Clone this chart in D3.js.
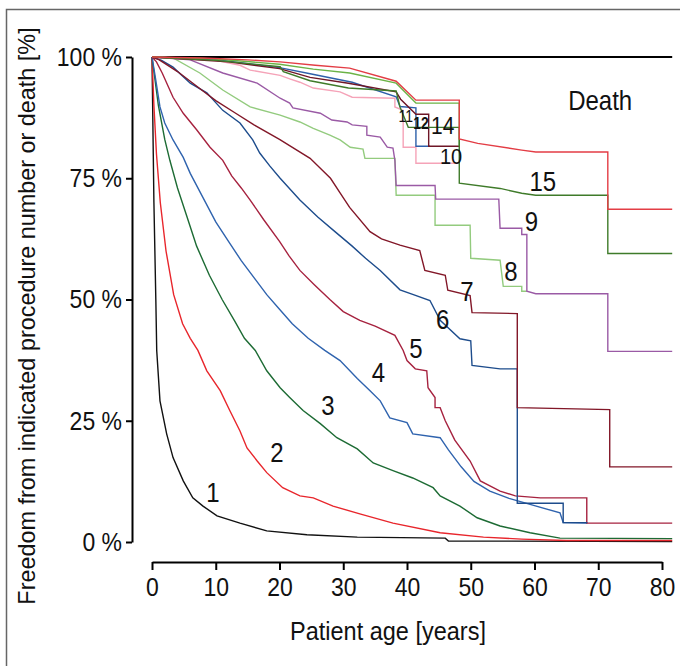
<!DOCTYPE html>
<html>
<head>
<meta charset="utf-8">
<script src="https://cdn.jsdelivr.net/npm/d3@7"></script>
<style>
  body { margin: 0; background: #fff; }
  svg { display: block; font-family: "Liberation Sans", Arial, sans-serif; }
</style>
</head>
<body>
<div id="chart"></div>
<script>
// [age in years, freedom in %]
const curve1 = [[0,100],[0.1,90],[0.2,80],[0.3,70],[0.45,60],[0.6,50],[0.74,39.5],[1.25,29.1],[2.3,22.3],[3.3,17.4],[4.9,12.6],[6.4,9.1],[8,7.4],[10.2,5.4],[13.8,3.9],[18,2.3],[24.3,1.5],[32.2,1.0],[46,0.8],[46.5,0.2],[81.6,0.1]];
const curve2 = [[0,100],[0.3,90],[0.7,80],[1.3,70],[2.2,60],[3.4,51],[4.8,45],[6,42],[7.2,39.5],[8.6,35.3],[10.7,31.2],[12.2,27.1],[13.8,22.9],[14.9,19.4],[16.5,16.7],[18,14.3],[20.5,11.2],[23.2,9.5],[25.3,9.1],[28.4,7.4],[32.6,5.8],[37.8,3.9],[45.2,1.9],[52,1.0],[58,0.6],[65,0.3],[81.6,0.3]];
const curve3 = [[0,100],[0.5,95],[1,90],[2,83],[2.8,78.7],[4,73],[5.5,67],[7,61],[9,55],[11,50],[13,45.5],[14.5,42],[16.2,39.5],[18,35.3],[20.1,31.8],[21.6,29.8],[23.7,27.1],[26.4,24.4],[29,21.5],[32.2,19.2],[34.7,16.3],[37.8,14.7],[40.9,13.2],[44.1,11.2],[45.2,9.5],[48.3,7.4],[51,5],[54.6,3.3],[59.3,1.9],[64,0.8],[81.6,0.7]];
const curve4 = [[0,100],[0.5,96],[1.25,89.7],[2,86.4],[3.3,82.9],[4.9,79.3],[6,76],[8,71],[10,66],[12,62],[14,58],[16,54.5],[18,51],[20,48],[22,45],[24.5,42],[27.1,39.5],[29.5,37.4],[32.2,33.7],[34.2,31.2],[35.8,29.1],[37.3,25.6],[40,24.6],[40.9,22.3],[45.2,21.5],[46.5,19],[48.5,15.5],[50.5,12.5],[53,10.5],[56,9],[60,7.5],[64,6],[64.5,4],[68.3,3.9]];
const curve5 = [[0,100],[0.7,99],[1.6,96.7],[3.3,91.7],[4.9,88.4],[7,85],[9.1,81.4],[11.1,78.7],[12.5,75.5],[14,73],[15.4,70.5],[17.5,66.5],[20,62],[21.5,59],[23.2,56],[25.5,53],[27.9,50],[30,47.5],[32.6,45.7],[35,44.5],[38.1,42.6],[39.4,39.5],[40,37.4],[41.3,35.7],[43.1,35.3],[43.3,31.8],[44.4,29.8],[44.4,27.7],[45.2,27.7],[46,25],[47.5,21],[49.9,16.7],[51.5,12.6],[54.6,10.5],[57,9.5],[60.9,9.1],[68.2,9.1],[68.2,3.9],[81.6,3.9]];
const curve6 = [[0,100],[1.5,99.3],[3.3,97.9],[6,94.6],[8.6,92.6],[11.1,89],[13.8,86.4],[15.8,82.9],[16.9,80.2],[18.5,77.5],[20.1,75],[23.2,70.5],[26,67],[28.7,64],[31.4,61],[33.5,58.5],[35.8,56],[38.9,52],[41,51],[43.6,49.8],[45.2,45.7],[48.3,41.9],[50,41.5],[50.2,36.4],[54.6,35.7],[57.3,35.7],[57.3,8],[64.5,8],[64.5,4],[68.3,4]];
const curve7 = [[0,100],[1,99.5],[2,98.7],[4,97],[6,95],[8,93],[10,91],[13,88.5],[16,86],[20,83],[24.8,79.1],[28,75],[29.5,72],[31,69],[34.2,64],[36,62.5],[38.9,61.2],[42,60.1],[42.8,56],[46,55],[46.4,51.9],[49.9,50.8],[50.2,47.3],[57.3,47.1],[57.3,27.7],[71.8,27.3],[71.8,15.5],[81.6,15.5]];
const curve8 = [[0,100],[3.3,99.8],[7.5,96.7],[11.1,93.2],[15.4,89.7],[20.1,88],[23.2,86.6],[25.3,85.3],[27.9,83.9],[29.5,82.9],[31.1,81.4],[33.1,81],[33.4,79.1],[38.1,79.1],[38.3,71.5],[44.4,71.5],[44.4,65.3],[49.9,65.3],[50,58.5],[54.6,58.1],[55.1,52.7],[58,52.7],[58,51.7],[58.8,51.7]];
const curve9 = [[0,100],[6,99.4],[11.1,96.7],[16.5,94.6],[20.1,91.5],[21.6,90.5],[22.1,89.5],[26.4,88.4],[28.2,87],[30.6,86.6],[31.4,86],[33.7,85.7],[33.7,83.9],[35.8,83.5],[36.9,81.4],[37.8,81.2],[38.1,78.7],[38.3,73.5],[44.4,73.5],[44.5,70.7],[54.4,70.7],[54.6,64.7],[58,64.7],[58,63.4],[58.8,63.4],[58.8,51.7],[60.2,51.2],[71.5,51.2],[71.5,39.3],[81.6,39.3]];
const curve10 = [[0,100],[9.6,99.4],[13.8,98.3],[15.4,97.3],[20.1,96.2],[21.6,95.5],[23.2,94.8],[25.3,93.6],[29.5,92.8],[31.4,91.7],[38.1,91.5],[38.1,89.7],[39.4,89],[39.4,81.4],[41.4,81.4],[41.4,78.1],[48.3,78.1]];
const curve11 = [[0,100],[10,99.5],[20,97.8],[25,96.5],[31.4,94.8],[38.3,91.8],[38.9,89.8],[41.4,89.5],[41.4,81.6],[43.6,81.6]];
const curve12 = [[0,100],[12,99],[20,97.6],[24.8,95.8],[30.8,94.6],[38.3,92.8],[39,91.3],[41.4,88.2],[43.4,88.2],[43.4,81.6],[48.3,81.6]];
const curve14 = [[0,100],[10,99.6],[20,98.5],[25.3,97.5],[31,96.7],[38.3,94.6],[41.4,90.5],[48.2,90.5],[48.2,81.8],[48.3,81.8]];
const curve15 = [[0,100],[10,99.3],[20.1,98],[20.6,97],[24.8,95.1],[30.8,93.6],[38.3,93],[38.9,89.7],[40.2,85.5],[48.2,85.5],[48.2,74],[54.6,72.9],[58,71.9],[60.2,71.5],[71.5,71.5],[71.5,59.5],[81.6,59.5]];
const curveDeath = [[0,100],[8,99.8],[15,99.4],[20.1,99],[25.6,98.3],[31,97.7],[38.3,95],[41.4,91.1],[48.2,91.1],[48.2,83.1],[51.1,82.2],[58,80.8],[60.2,80.4],[71.5,80.4],[71.5,68.6],[81.6,68.6]];

const seriesNames = ["1","2","3","4","5","6","7","8","9","10","11","12","14","15","Death"];
const seriesValues = [curve1,curve2,curve3,curve4,curve5,curve6,curve7,curve8,curve9,curve10,curve11,curve12,curve14,curve15,curveDeath];

// label anchor points [age, %]
const labelNames = ["1","2","3","4","5","6","7","8","9","10","11","12","14","15","Death"];
const labelAt = [[9.55,10.3],[19.6,18.4],[27.6,28.1],[35.5,34.9],[41.4,39.8],[45.6,45.8],[49.4,51.6],[56.3,55.7],[59.5,66.0],[46.9,79.6],[39.8,87.6],[42.2,86.2],[45.6,85.8],[61.3,74.3],[70.3,91.1]];

const xTicks = [0,10,20,30,40,50,60,70,80];
const yTicks = [0,25,50,75,100];
const maxAge = 81.6;

const colors = {
  "1":"#111111","2":"#e8262c","3":"#1d6b34","4":"#2f63ae","5":"#a6223f",
  "6":"#1d4c8c","7":"#821728","8":"#93cb7e","9":"#9a5aa5","10":"#f5a3b8",
  "11":"#2e60aa","12":"#6e1626","14":"#6bb346","15":"#3f7b2a","Death":"#e33d45"
};
const labelSize = {"10":20,"11":14,"12":14,"14":21,"Death":24};

const W = 680, H = 666;
const svg = d3.select("#chart").append("svg")
  .attr("width", W).attr("height", H);

// the published figure is slightly taller than wide: stretch glyphs vertically
function stretch(sel) {
  sel.each(function() {
    const t = d3.select(this);
    const tx = +t.attr("x") || 0, ty = +t.attr("y") || 0;
    t.attr("x", 0).attr("y", 0)
      .attr("transform", "translate(" + tx + "," + ty + ") scale(1,1.12)");
  });
}

// outer frame (only top and left edges fall inside the picture)
svg.append("path")
  .attr("d", "M6.5," + (H + 5) + "V9.5H" + (W + 5))
  .attr("fill", "none").attr("stroke", "#666").attr("stroke-width", 1.5);

const x = d3.scaleLinear().domain([0, 80]).range([152, 662]);
const y = d3.scaleLinear().domain([0, 100]).range([542, 57]);

// y axis
const yAxis = svg.append("g")
  .attr("transform", "translate(132,0)")
  .call(d3.axisLeft(y).tickValues(yTicks).tickSize(6).tickSizeOuter(0).tickPadding(4)
    .tickFormat(d => d + " %"));
yAxis.select(".domain").attr("stroke", "#000").attr("stroke-width", 2);
yAxis.selectAll(".tick line").attr("stroke", "#000").attr("stroke-width", 2);
yAxis.selectAll(".tick text").attr("font-size", 23).attr("fill", "#111")
  .attr("font-family", "Liberation Sans, Arial, sans-serif")
  .call(stretch);

// x axis
const xAxis = svg.append("g")
  .attr("transform", "translate(0,562)")
  .call(d3.axisBottom(x).tickValues(xTicks).tickSize(8).tickSizeOuter(0).tickPadding(8));
xAxis.select(".domain").attr("stroke", "#000").attr("stroke-width", 2);
xAxis.selectAll(".tick line").attr("stroke", "#000").attr("stroke-width", 2);
xAxis.selectAll(".tick text").attr("font-size", 23).attr("fill", "#111")
  .attr("font-family", "Liberation Sans, Arial, sans-serif")
  .call(stretch);

// axis titles
svg.append("text")
  .attr("x", 388).attr("y", 640)
  .attr("text-anchor", "middle")
  .attr("font-size", 23.5).attr("fill", "#111")
  .text("Patient age [years]")
  .call(stretch);

svg.append("text")
  .attr("transform", "translate(35,316) rotate(-90)")
  .attr("text-anchor", "middle")
  .attr("font-size", 23.4).attr("fill", "#111")
  .text("Freedom from indicated procedure number or death [%]");

// 100 % reference line
svg.append("line")
  .attr("x1", x(0)).attr("x2", x(maxAge))
  .attr("y1", y(100)).attr("y2", y(100))
  .attr("stroke", "#000").attr("stroke-width", 2);

// curves
const line = d3.line()
  .x(d => x(d[0]))
  .y(d => y(d[1]));

svg.append("g").selectAll("path")
  .data(seriesValues)
  .join("path")
    .attr("d", line)
    .attr("fill", "none")
    .attr("stroke", (d, i) => colors[seriesNames[i]])
    .attr("stroke-width", 1.4)
    .attr("stroke-linejoin", "miter");

// curve labels
svg.append("g").selectAll("text")
  .data(labelNames)
  .join("text")
    .attr("x", (d, i) => x(labelAt[i][0]))
    .attr("y", (d, i) => y(labelAt[i][1]))
    .attr("text-anchor", "middle")
    .attr("dominant-baseline", "central")
    .attr("font-size", d => labelSize[d] || 24)
    .attr("font-weight", d => d === "12" ? "bold" : "normal")
    .attr("fill", "#111")
    .text(d => d)
    .call(stretch);
</script>
</body>
</html>
